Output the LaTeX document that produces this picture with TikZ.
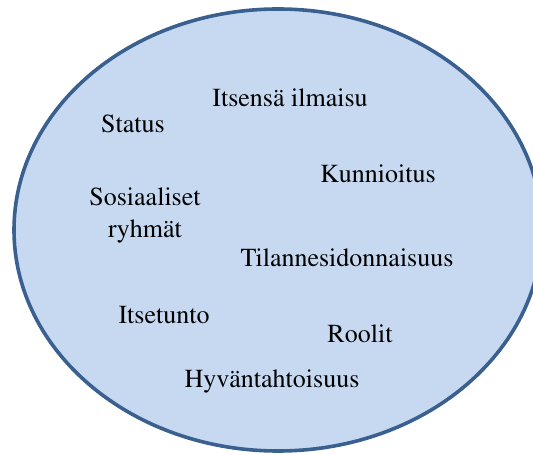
\documentclass[tikz,border=0pt]{standalone}
\usepackage[T1]{fontenc}
\usepackage{mathptmx}
\definecolor{ovalfill}{HTML}{C6D9F1}
\definecolor{ovalline}{HTML}{3A6090}
\begin{document}
\begin{tikzpicture}[x=1pt,y=1pt,
  label/.style={anchor=base,inner sep=0pt,font=\rmfamily\fontsize{26}{32}\selectfont,text=black,align=center}]
  \useasboundingbox (0,0) rectangle (533,455);
  \clip (0,0) rectangle (533,455);
  % the oval that holds all the words
  \draw[fill=ovalfill,draw=ovalline,line width=3.6pt] (278,225) ellipse [x radius=264, y radius=221];
  \node[label] (ilmaisu) at (290,348) {Itsensä ilmaisu};
  \node[label] (status) at (133,322) {Status};
  \node[label] (kunnioitus) at (378,272) {Kunnioitus};
  \node[label] (ryhmat) at (145,217) {Sosiaaliset\\ryhmät};
  \node[label] (tilanne) at (347,188) {Tilannesidonnaisuus};
  \node[label] (itsetunto) at (164,131) {Itsetunto};
  \node[label] (roolit) at (360,112) {Roolit};
  \node[label] (hyvan) at (272,67) {Hyväntahtoisuus};
\end{tikzpicture}
\end{document}
